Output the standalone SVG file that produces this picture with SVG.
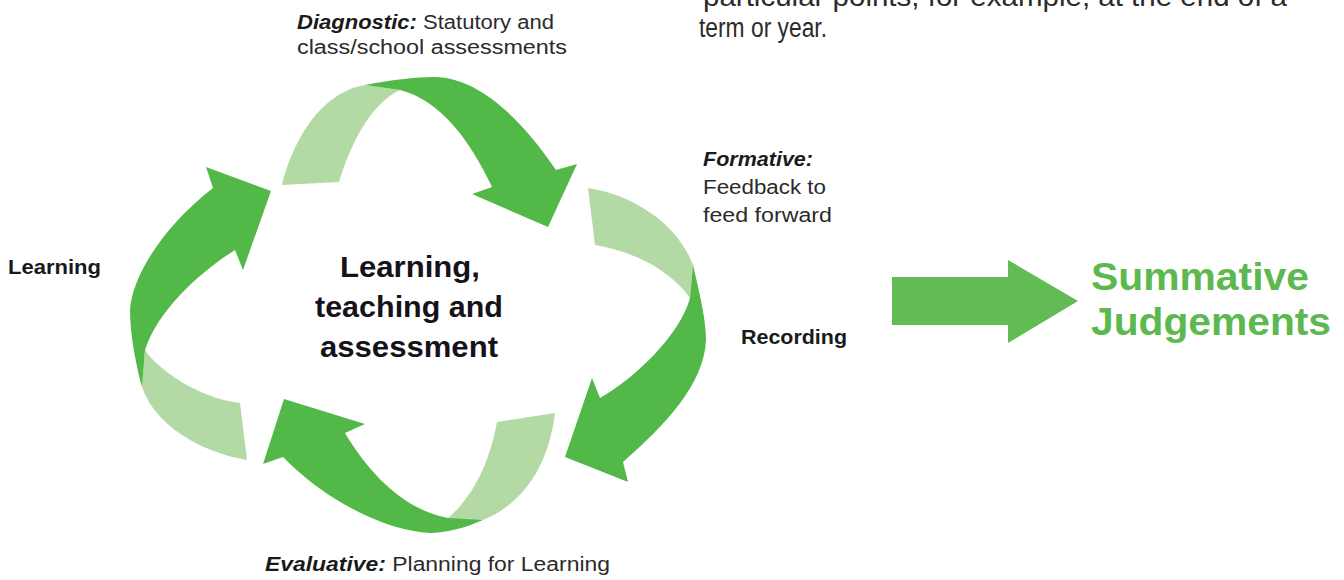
<svg xmlns="http://www.w3.org/2000/svg" width="1344" height="580" viewBox="0 0 1344 580">
<style>
.dk{fill:#52b848}
.lt{fill:#b3daa4}
.t{font-family:"Liberation Sans",Arial,sans-serif;fill:#2b2b2b}
.b{font-weight:bold;fill:#1a1a1a}
.bi{font-weight:bold;font-style:italic;fill:#1a1a1a}
.c{font-family:"Liberation Sans",Arial,sans-serif;font-weight:bold;fill:#16121a;font-size:30px}
.g{font-family:"Liberation Sans",Arial,sans-serif;font-weight:bold;fill:#5cb84f;font-size:39px}
</style>
<rect width="1344" height="580" fill="#ffffff"/>
<g id="connectors">
  <g id="cycle-top">
    <path class="lt" d="M282,185 C292,145 318,93 365,85 L400,90 C372,103 352,140 339,182 Z"/>
    <path class="dk" d="M365,85 C390,80 415,77 435,77 C480,78 522,120 556,170 L577,164 L548,227 L472,194 L492,187 C470,140 440,100 400,90 Z"/>
  </g>
  <g id="cycle-right">
    <path class="lt" d="M588,188 C635,195 678,225 693,265 L690,298 C670,270 635,252 595,245 Z"/>
    <path class="dk" d="M693,265 C700,295 706,320 706,340 C704,385 665,425 623,462 L628,482 L565,457 L592,378 L600,398 C635,378 680,335 690,298 Z"/>
  </g>
  <g id="cycle-bottom">
    <path class="lt" d="M555,413 L497,422 C490,460 475,495 448,518 C460,521 472,521 483,520 C520,505 548,470 555,413 Z"/>
    <path class="dk" d="M483,520 C465,528 445,533 430,533 C390,531 330,505 283,457 L263,464 L284,399 L365,424 L345,433 C370,475 405,510 448,518 Z"/>
  </g>
  <g id="cycle-left">
    <path class="lt" d="M145,350 C160,372 200,398 240,403 L247,460 C200,452 155,425 142,387 Z"/>
    <path class="dk" d="M142,387 C136,365 130,335 130,310 C132,275 165,225 213,188 L206,167 L271,191 L243,270 L235,250 C200,272 158,310 145,350 Z"/>
  </g>
  <g id="summative-arrow">
    <path fill="#62bb55" d="M892,277 L1008,277 L1008,260 L1078,301 L1008,343 L1008,325 L892,325 Z"/>
  </g>
</g>
<g id="intro-text">
  <text class="t" x="703" y="6" font-size="27" textLength="584" lengthAdjust="spacingAndGlyphs">particular points, for example, at the end of a</text>
  <text class="t" x="699" y="37" font-size="27" textLength="128" lengthAdjust="spacingAndGlyphs">term or year.</text>
</g>
<g id="node-center">
  <text class="c" x="410" y="277" text-anchor="middle" textLength="140" lengthAdjust="spacingAndGlyphs">Learning,</text>
  <text class="c" x="409" y="317" text-anchor="middle" textLength="188" lengthAdjust="spacingAndGlyphs">teaching and</text>
  <text class="c" x="409" y="357" text-anchor="middle" textLength="178" lengthAdjust="spacingAndGlyphs">assessment</text>
</g>
<g id="node-diagnostic">
  <text class="t" x="297" y="29" font-size="20" textLength="257" lengthAdjust="spacingAndGlyphs"><tspan class="bi">Diagnostic:</tspan> Statutory and</text>
  <text class="t" x="297" y="54" font-size="20" textLength="270" lengthAdjust="spacingAndGlyphs">class/school assessments</text>
</g>
<g id="node-formative">
  <text class="t" x="703" y="166" font-size="20" textLength="110" lengthAdjust="spacingAndGlyphs"><tspan class="bi">Formative:</tspan></text>
  <text class="t" x="703" y="194" font-size="20" textLength="123" lengthAdjust="spacingAndGlyphs">Feedback to</text>
  <text class="t" x="703" y="222" font-size="20" textLength="129" lengthAdjust="spacingAndGlyphs">feed forward</text>
</g>
<g id="node-recording">
  <text class="t b" x="741" y="344" font-size="21" textLength="106" lengthAdjust="spacingAndGlyphs">Recording</text>
</g>
<g id="node-learning">
  <text class="t b" x="8" y="274" font-size="21" textLength="93" lengthAdjust="spacingAndGlyphs">Learning</text>
</g>
<g id="node-evaluative">
  <text class="t" x="265" y="571" font-size="20" textLength="345" lengthAdjust="spacingAndGlyphs"><tspan class="bi">Evaluative:</tspan> Planning for Learning</text>
</g>
<g id="node-summative">
  <text class="g" x="1091" y="290" textLength="218" lengthAdjust="spacingAndGlyphs">Summative</text>
  <text class="g" x="1091" y="335" textLength="240" lengthAdjust="spacingAndGlyphs">Judgements</text>
</g>
</svg>
